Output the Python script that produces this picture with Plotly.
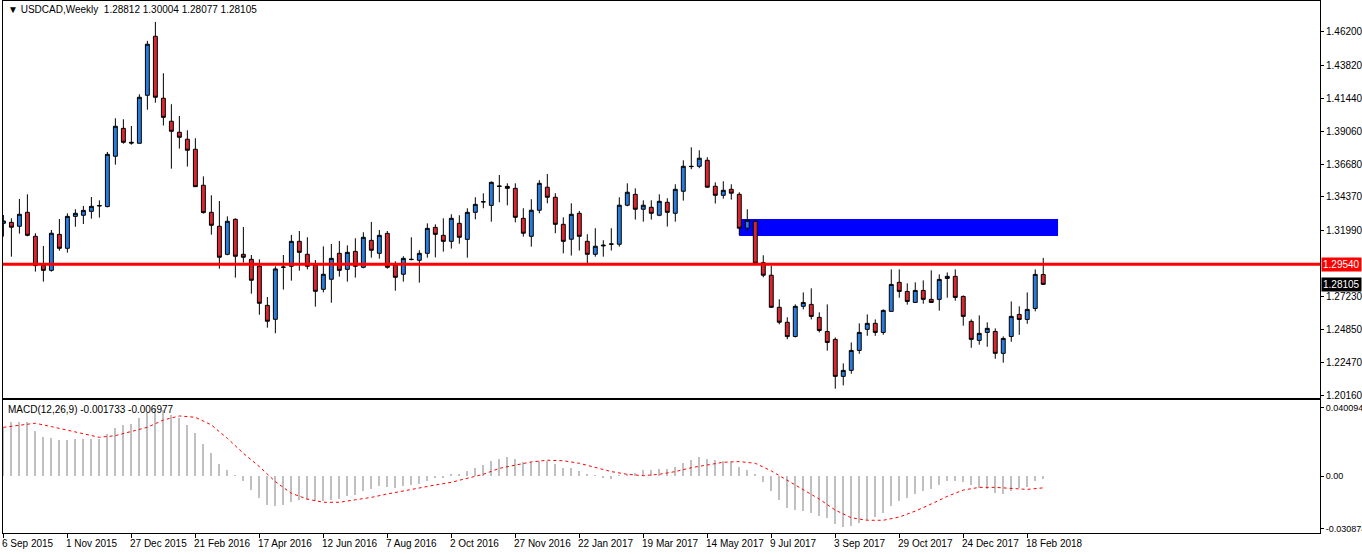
import plotly.graph_objects as go

opens = [1.3248,1.3255,1.3227,1.3327,1.3155,1.2945,1.2911,1.3169,1.3069,1.3298,
1.3306,1.3334,1.3373,1.3368,1.3729,1.3929,1.3829,1.3822,1.4166,1.4589,
1.4145,1.3980,1.3901,1.3851,1.3779,1.3521,1.3327,1.3227,1.3026,1.3277,
1.3026,1.2990,1.2942,1.2660,1.2560,1.2933,1.2940,1.3119,1.3026,1.2947,
1.2775,1.2847,1.3033,1.2918,1.3047,1.2933,1.3126,1.3033,1.3176,1.2947,
1.2883,1.2988,1.2983,1.3033,1.3219,1.3162,1.3119,1.3248,1.3133,1.3327,
1.3401,1.3377,1.3513,1.3513,1.3499,1.3284,1.3155,1.3342,1.3507,1.3435,
1.3241,1.3134,1.3320,1.3119,1.3026,1.3086,1.3098,1.3098,1.3378,1.3456,
1.3349,1.3363,1.3306,1.3399,1.3320,1.3478,1.3657,1.3657,1.3700,1.3514,
1.3449,1.3492,1.3456,1.3213,1.3263,1.2966,1.2876,1.2646,1.2539,1.2437,
1.2653,1.2667,1.2574,1.2473,1.2416,1.2151,1.2194,1.2337,1.2488,1.2531,
1.2466,1.2617,1.2825,1.2760,1.2681,1.2767,1.2703,1.2703,1.2853,1.2868,
1.2724,1.2545,1.2409,1.2466,1.2473,1.2316,1.2437,1.2595,1.2559,1.2638,
1.28812]
highs = [1.3308,1.3284,1.3423,1.3456,1.3177,1.3086,1.3200,1.3279,1.3320,1.3349,
1.3373,1.3437,1.3413,1.3760,1.4001,1.3994,1.3946,1.4173,1.4556,1.4692,
1.4324,1.4102,1.4018,1.3915,1.3858,1.3585,1.3449,1.3408,1.3298,1.3284,
1.3222,1.3021,1.2990,1.2720,1.2940,1.3021,1.3165,1.3193,1.3148,1.2985,
1.3083,1.3100,1.3122,1.3090,1.3141,1.3184,1.3258,1.3200,1.3193,1.2976,
1.3012,1.3148,1.3055,1.3248,1.3241,1.3284,1.3313,1.3306,1.3356,1.3435,
1.3463,1.3549,1.3595,1.3535,1.3535,1.3356,1.3421,1.3557,1.3602,1.3464,
1.3291,1.3392,1.3337,1.3170,1.3213,1.3127,1.3213,1.3435,1.3535,1.3499,
1.3413,1.3413,1.3456,1.3428,1.3528,1.3700,1.3793,1.3772,1.3722,1.3542,
1.3550,1.3528,1.3471,1.3349,1.3268,1.3019,1.2943,1.2704,1.2575,1.2667,
1.2753,1.2782,1.2610,1.2667,1.2430,1.2244,1.2394,1.2531,1.2595,1.2559,
1.2631,1.2918,1.2918,1.2818,1.2825,1.2839,1.2911,1.2882,1.2896,1.2918,
1.2731,1.2559,1.2588,1.2538,1.2495,1.2437,1.2688,1.2653,1.2753,1.2918,
1.30004]
lows = [1.3153,1.3009,1.3174,1.3155,1.2902,1.2830,1.2902,1.3052,1.3038,1.3224,
1.3243,1.3282,1.3289,1.3363,1.3669,1.3819,1.3812,1.3820,1.4063,1.4113,
1.3949,1.3640,1.3784,1.3655,1.3509,1.3318,1.3167,1.2923,1.3019,1.2859,
1.2966,1.2744,1.2593,1.2500,1.2460,1.2773,1.2837,1.2909,1.2918,1.2651,
1.2753,1.2679,1.2866,1.2830,1.2859,1.2926,1.3002,1.2995,1.2923,1.2765,
1.2830,1.2983,1.2823,1.3002,1.3004,1.3045,1.3067,1.3102,1.3002,1.3277,
1.3356,1.3260,1.3399,1.3377,1.3255,1.3153,1.3081,1.3320,1.3392,1.3177,
1.3033,1.3017,1.3053,1.2962,1.3009,1.3009,1.3053,1.3081,1.3370,1.3275,
1.3260,1.3275,1.3299,1.3225,1.3260,1.3411,1.3636,1.3643,1.3504,1.3390,
1.3425,1.3418,1.3162,1.3191,1.2950,1.2861,1.2641,1.2524,1.2417,1.2430,
1.2631,1.2559,1.2466,1.2335,1.2062,1.2086,1.2170,1.2313,1.2442,1.2442,
1.2449,1.2617,1.2715,1.2665,1.2678,1.2672,1.2678,1.2622,1.2715,1.2693,
1.2514,1.2356,1.2378,1.2363,1.2277,1.2249,1.2399,1.2449,1.2528,1.2617,
1.28077]
closes = [1.3265,1.3220,1.3313,1.3162,1.2945,1.2911,1.3177,1.3069,1.3298,1.3320,
1.3341,1.3370,1.3375,1.3743,1.3944,1.3829,1.3824,1.4152,1.4532,1.4152,
1.4008,1.3908,1.3865,1.3772,1.3511,1.3325,1.3234,1.3005,1.3263,1.3012,
1.3005,1.2840,1.2675,1.2546,1.2921,1.2934,1.3119,1.3040,1.2940,1.2761,
1.2883,1.2997,1.2911,1.3040,1.2940,1.3148,1.3055,1.3162,1.2933,1.2861,
1.2997,1.2990,1.3033,1.3212,1.3169,1.3119,1.3284,1.3148,1.3327,1.3384,
1.3403,1.3542,1.3515,1.3499,1.3291,1.3177,1.3342,1.3535,1.3435,1.3241,
1.3119,1.3313,1.3155,1.3026,1.3084,1.3091,1.3100,1.3378,1.3471,1.3349,
1.3378,1.3320,1.3406,1.3327,1.3492,1.3657,1.3655,1.3715,1.3507,1.3449,
1.3485,1.3464,1.3213,1.3270,1.2962,1.2876,1.2646,1.2539,1.2436,1.2653,
1.2681,1.2581,1.2480,1.2394,1.2151,1.2194,1.2337,1.2466,1.2531,1.2466,
1.2624,1.2810,1.2760,1.2688,1.2767,1.2703,1.2681,1.2846,1.2868,1.2717,
1.2581,1.2416,1.2459,1.2495,1.2316,1.2423,1.2581,1.2559,1.2631,1.2882,
1.28105]

macd_hist = [0.0291,0.0320,0.0320,0.0317,0.0266,0.0230,0.0224,0.0212,0.0212,0.0218,
0.0218,0.0218,0.0218,0.0248,0.0283,0.0303,0.0307,0.0342,0.0370,0.0400,
0.0389,0.0360,0.0340,0.0301,0.0254,0.0189,0.0136,0.0071,0.0035,0.0003,
-0.0030,-0.0081,-0.0128,-0.0169,-0.0175,-0.0169,-0.0152,-0.0140,-0.0140,-0.0146,
-0.0146,-0.0140,-0.0134,-0.0116,-0.0110,-0.0087,-0.0077,-0.0059,-0.0063,-0.0069,
-0.0061,-0.0055,-0.0049,-0.0028,-0.0014,-0.0006,0.0008,0.0014,0.0030,0.0049,
0.0065,0.0090,0.0102,0.0112,0.0102,0.0081,0.0083,0.0090,0.0090,0.0073,
0.0049,0.0049,0.0031,0.0008,0.0004,-0.0014,-0.0018,0.0004,0.0014,0.0018,
0.0033,0.0033,0.0041,0.0041,0.0053,0.0077,0.0094,0.0112,0.0102,0.0096,
0.0090,0.0083,0.0053,0.0035,0.0006,-0.0035,-0.0089,-0.0140,-0.0187,-0.0199,
-0.0205,-0.0216,-0.0234,-0.0246,-0.0281,-0.0299,-0.0293,-0.0276,-0.0258,-0.0240,
-0.0216,-0.0175,-0.0146,-0.0128,-0.0104,-0.0089,-0.0077,-0.0053,-0.0030,-0.0030,
-0.0035,-0.0053,-0.0071,-0.0077,-0.0098,-0.0104,-0.0089,-0.0071,-0.0065,-0.0030,
-0.001733]
# signal line read every second week
signal_even = [0.0287,0.0301,0.0311,0.0291,0.0271,0.0252,0.0228,0.0238,0.0261,0.0287,
0.0330,0.0354,0.0346,0.0301,0.0222,0.0134,0.0055,-0.0033,-0.0102,-0.0136,
-0.0155,-0.0155,-0.0140,-0.0126,-0.0106,-0.0087,-0.0069,-0.0053,-0.0037,-0.0014,
0.0010,0.0045,0.0065,0.0083,0.0093,0.0090,0.0075,0.0051,0.0026,0.0010,
0.0002,0.0010,0.0026,0.0049,0.0065,0.0081,0.0085,0.0075,0.0030,-0.0024,
-0.0083,-0.0136,-0.0201,-0.0246,-0.0261,-0.0261,-0.0242,-0.0207,-0.0165,-0.0120,
-0.0083,-0.0067,-0.0067,-0.0073,-0.0079,-0.006977]

date_labels = ["6 Sep 2015","1 Nov 2015","27 Dec 2015","21 Feb 2016","17 Apr 2016",
"12 Jun 2016","7 Aug 2016","2 Oct 2016","27 Nov 2016","22 Jan 2017","19 Mar 2017",
"14 May 2017","9 Jul 2017","3 Sep 2017","29 Oct 2017","24 Dec 2017","18 Feb 2018"]
label_step = 8
price_ticks = [1.46200,1.43820,1.41440,1.39060,1.36680,1.34370,1.31990,1.27230,1.24850,1.22470,1.20160]
level = 1.29540
zone_low, zone_high = 1.3157, 1.3279
zone_start, zone_end = 92, 131.85

n = len(closes)
idx = list(range(n))
sig_x = list(range(0, n, 2))
date_pos = [i * label_step for i in range(len(date_labels))]

BLUE = "#2A7BDE"
RED = "#DA2630"
FONT = "Liberation Sans"
FS = 10

fig = go.Figure()
fig.add_trace(go.Candlestick(
    x=idx, open=opens, high=highs, low=lows, close=closes,
    increasing=dict(fillcolor=BLUE, line=dict(color="black", width=1)),
    decreasing=dict(fillcolor=RED, line=dict(color="black", width=1)),
    whiskerwidth=0, showlegend=False, hoverinfo="skip",
    xaxis="x", yaxis="y"))
fig.add_trace(go.Bar(x=idx, y=macd_hist, width=0.15, marker=dict(color="#C0C0C0", line=dict(width=0)),
                     showlegend=False, xaxis="x2", yaxis="y2", hoverinfo="skip"))
fig.add_trace(go.Scatter(x=sig_x, y=signal_even, mode="lines",
                         line=dict(color="#FF0000", width=1, dash="dot"),
                         showlegend=False, xaxis="x2", yaxis="y2", hoverinfo="skip"))

xr = [-0.05, 164.6]
fig.update_layout(
    width=1362, height=554,
    margin=dict(l=3, r=42, t=1, b=21, autoexpand=False),
    paper_bgcolor="white", plot_bgcolor="white",
    font=dict(family=FONT, size=FS, color="black"),
    xaxis=dict(domain=[0, 1], range=xr, anchor="y", showticklabels=False, ticks="",
               showgrid=False, zeroline=False, showline=True, mirror=True, linecolor="black",
               linewidth=1, rangeslider=dict(visible=False), automargin=False),
    yaxis=dict(domain=[0.2538, 1], range=[1.1996, 1.4842], side="right", anchor="x",
               tickvals=price_ticks, ticktext=[f"{v:.5f}" for v in price_ticks],
               ticks="outside", ticklen=3, tickcolor="black", automargin=False,
               showgrid=False, zeroline=False, showline=True, mirror=True, linecolor="black",
               tickfont=dict(size=FS, family=FONT)),
    xaxis2=dict(domain=[0, 1], range=xr, anchor="y2", tickvals=date_pos, automargin=False,
                ticktext=["" for _ in date_pos], ticks="outside", ticklen=4, tickcolor="black",
                showgrid=False, zeroline=False, showline=True, mirror=True, linecolor="black"),
    yaxis2=dict(domain=[0, 0.25], range=[-0.0336, 0.0448], side="right", anchor="x2",
                tickvals=[0.040094, 0.0, -0.030874], ticktext=["0.040094", "0.00", "-0.030874"],
                ticks="outside", ticklen=3, tickcolor="black", automargin=False,
                showgrid=False, zeroline=False, showline=True, mirror=True, linecolor="black",
                tickfont=dict(size=9, family=FONT)),
    bargap=0,
)

fig.add_shape(type="rect", xref="x", yref="y", x0=zone_start, x1=zone_end,
              y0=zone_low, y1=zone_high, fillcolor="#0000FF", line=dict(width=0), layer="below")
fig.add_shape(type="line", xref="x domain", yref="y", x0=0, x1=1, y0=level, y1=level,
              line=dict(color="#FF0000", width=3))

ann = []
for p, lab in zip(date_pos, date_labels):
    ann.append(dict(x=p, y=0, xref="x2", yref="paper", text=lab, showarrow=False,
                    xanchor="left", yanchor="top", xshift=-3, yshift=-3,
                    font=dict(size=FS, family=FONT)))
ann.append(dict(x=1, y=level, xref="paper", yref="y", text="1.29540", showarrow=False,
                xanchor="left", yanchor="middle", xshift=1, bgcolor="#FF0000",
                font=dict(color="white", size=FS, family=FONT), borderpad=1))
ann.append(dict(x=1, y=closes[-1], xref="paper", yref="y", text=f"{closes[-1]:.5f}", showarrow=False,
                xanchor="left", yanchor="middle", xshift=1, bgcolor="black",
                font=dict(color="white", size=FS, family=FONT), borderpad=1))
ann.append(dict(x=0.002, y=0.998, xref="paper", yref="paper",
                text=f"▼ USDCAD,Weekly  {opens[-1]:.5f} {highs[-1]:.5f} {lows[-1]:.5f} {closes[-1]:.5f}",
                showarrow=False, xanchor="left", yanchor="top", font=dict(size=FS, family=FONT)))
ann.append(dict(x=0.002, y=0.247, xref="paper", yref="paper",
                text=f"MACD(12,26,9) {macd_hist[-1]:.6f} {signal_even[-1]:.6f}",
                showarrow=False, xanchor="left", yanchor="top", font=dict(size=FS, family=FONT)))
fig.update_layout(annotations=ann)

fig.write_html("out.html", config={"displayModeBar": False},
               post_script="document.body.style.margin='0';document.body.style.overflow='hidden';")
